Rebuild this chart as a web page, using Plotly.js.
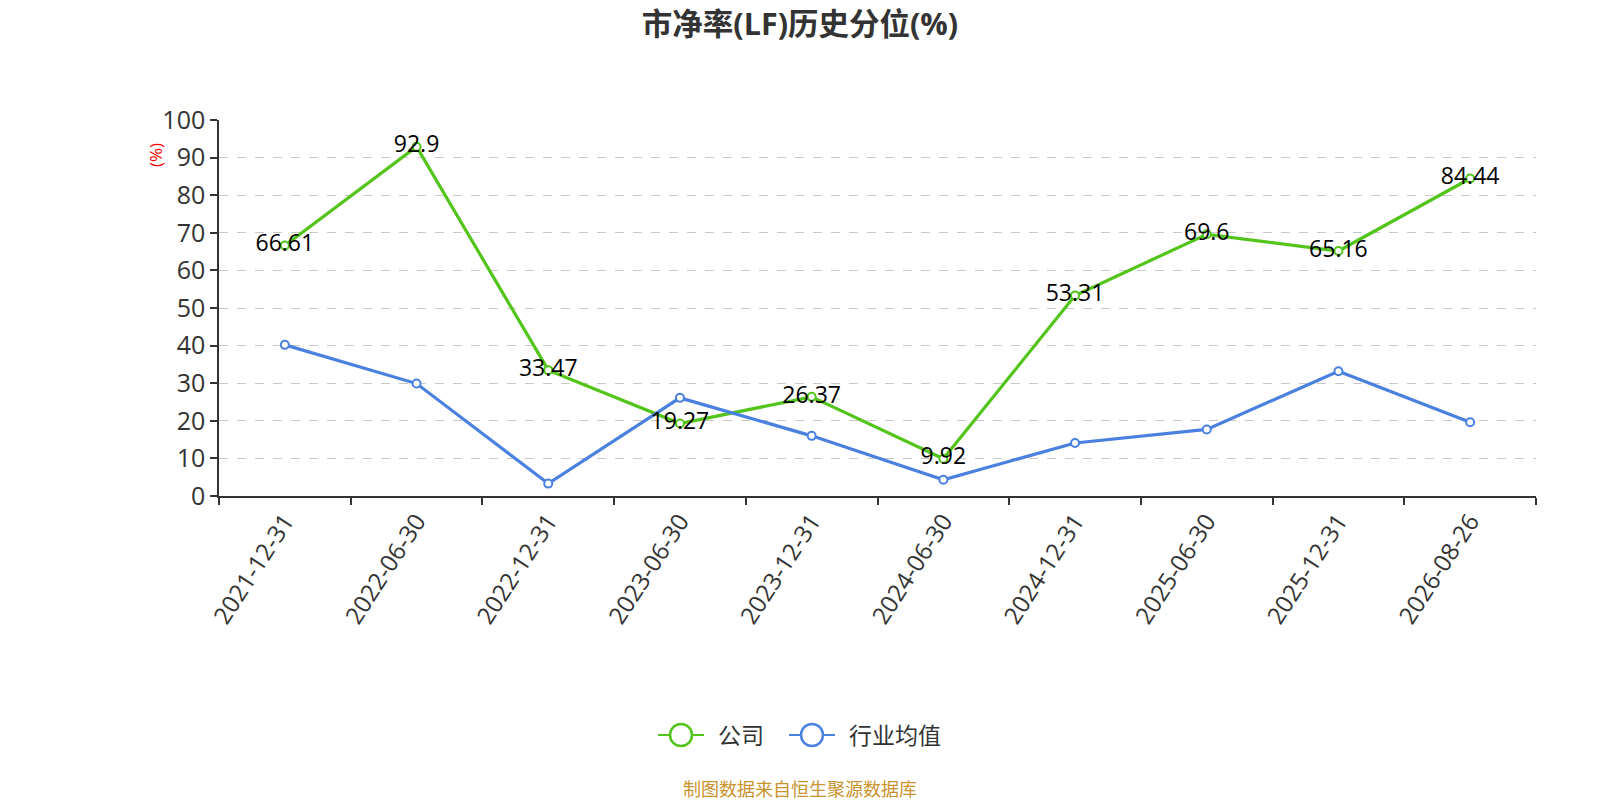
<!DOCTYPE html>
<html>
<head>
<meta charset="utf-8">
<script src="https://cdn.plot.ly/plotly-3.0.1.min.js"></script>
<style>
  html, body { margin: 0; padding: 0; background: #fff; }
  #chart { width: 1600px; height: 800px; }
</style>
</head>
<body>
<div id="chart"></div>
<script>
const dates = ["2021-12-31", "2022-06-30", "2022-12-31", "2023-06-30", "2023-12-31",
               "2024-06-30", "2024-12-31", "2025-06-30", "2025-12-31", "2026-08-26"];
const company = [66.61, 92.9, 33.47, 19.27, 26.37, 9.92, 53.31, 69.6, 65.16, 84.44];
const industry = [40.2, 29.9, 3.3, 26.1, 16.0, 4.3, 14.1, 17.7, 33.2, 19.6];
const seriesNames = ['公司', '行业均值'];
const yTicks = [0, 10, 20, 30, 40, 50, 60, 70, 80, 90, 100];

const green = '#52C41A';
const blue = '#4A80E0';
const font = '"Open Sans", "Noto Sans CJK SC", sans-serif';

// plot box in pixels (used to place the hand made legend)
const M = { l: 219, r: 64, t: 120, b: 304 };
const W = 1600, H = 800;
const pw = W - M.l - M.r, ph = H - M.t - M.b;
const px = v => (v - M.l) / pw;
const py = v => (H - M.b - v) / ph;

let traces = [
    {
        type: 'scatter',
        mode: 'lines+markers',
        name: seriesNames[0],
        x: dates,
        y: company,
        line: { color: green, width: 3.2 },
        marker: { symbol: 'circle', size: 8, color: '#fff', line: { color: green, width: 2 } },
        showlegend: false
    },
    {
        type: 'scatter',
        mode: 'lines+markers',
        name: seriesNames[1],
        x: dates,
        y: industry,
        line: { color: blue, width: 3.2 },
        marker: { symbol: 'circle', size: 8, color: '#fff', line: { color: blue, width: 2 } },
        showlegend: false
    },
    {
        // value labels on the company line
        type: 'scatter',
        mode: 'text',
        x: dates,
        y: company,
        text: company.map(String),
        textposition: 'middle center',
        textfont: { size: 23, color: '#000', family: font },
        showlegend: false,
        hoverinfo: 'skip'
    }
];

// legend: line + open circle + label
const legendY = py(735);
const legendItems = [
    { color: green, x0: 658, label: seriesNames[0] },
    { color: blue, x0: 789, label: seriesNames[1] }
];
let shapes = [];
let annotations = [];
legendItems.forEach(it => {
    shapes.push({
        type: 'line', xref: 'paper', yref: 'paper',
        x0: px(it.x0), x1: px(it.x0 + 46), y0: legendY, y1: legendY,
        line: { color: it.color, width: 2 }
    });
    shapes.push({
        type: 'circle', xref: 'paper', yref: 'paper',
        x0: px(it.x0 + 12), x1: px(it.x0 + 34),
        y0: legendY - 11 / ph, y1: legendY + 11 / ph,
        fillcolor: '#fff',
        line: { color: it.color, width: 2.5 }
    });
    annotations.push({
        text: it.label, xref: 'paper', yref: 'paper',
        x: px(it.x0 + 58), y: legendY,
        xanchor: 'left', yanchor: 'middle', showarrow: false,
        font: { size: 23, color: '#333', family: font }
    });
});

annotations.push({
    text: '(%)',
    xref: 'paper', yref: 'paper',
    x: px(155), y: py(155),
    xanchor: 'center', yanchor: 'middle',
    textangle: -90,
    showarrow: false,
    font: { size: 17, color: '#ff0000', family: font }
});
annotations.push({
    text: '制图数据来自恒生聚源数据库',
    xref: 'paper', yref: 'paper',
    x: px(W / 2), y: py(789),
    xanchor: 'center', yanchor: 'middle',
    showarrow: false,
    font: { size: 18, color: '#C8922C', family: font }
});

let layout = {
    width: W,
    height: H,
    margin: M,
    paper_bgcolor: '#fff',
    plot_bgcolor: '#fff',
    font: { family: font, color: '#333' },
    title: {
        text: '<b>市净率(LF)历史分位(%)</b>',
        font: { size: 30.5, color: '#333', family: font },
        x: 0.5,
        xanchor: 'center',
        xref: 'container',
        y: 0.97,
        yanchor: 'middle',
        yref: 'container'
    },
    xaxis: {
        type: 'category',
        tickson: 'boundaries',
        ticks: 'outside',
        ticklen: 7,
        tickcolor: '#333',
        tickwidth: 1.5,
        tickangle: -57,
        tickfont: { size: 24, color: '#333' },
        showline: true,
        linecolor: '#333',
        linewidth: 1.5,
        showgrid: false,
        zeroline: false,
        range: [-0.5, 9.5]
    },
    yaxis: {
        range: [0, 100],
        tickvals: yTicks,
        ticks: 'outside',
        ticklen: 7,
        tickcolor: '#333',
        tickwidth: 1.5,
        tickfont: { size: 25, color: '#333' },
        showline: true,
        linecolor: '#333',
        linewidth: 1.5,
        showgrid: true,
        gridcolor: '#c8c8c8',
        griddash: 'dash',
        gridwidth: 1,
        zeroline: false
    },
    shapes: shapes,
    annotations: annotations,
    showlegend: false
};

Plotly.newPlot('chart', traces, layout, { displayModeBar: false });
</script>
</body>
</html>
